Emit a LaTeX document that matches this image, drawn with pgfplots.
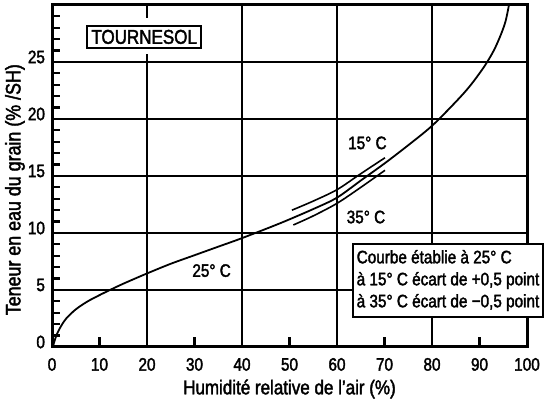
\documentclass[border=0pt]{standalone}
\usepackage{pgfplots}
\pgfplotsset{compat=1.18}
\usepackage{fontspec}
\setmainfont{Liberation Sans}[FakeStretch=0.85, FakeBold=2]
\begin{document}
\begin{tikzpicture}
\begin{axis}[
  scale only axis, width=237.5pt, height=171pt,
  xmin=0, xmax=100, ymin=0, ymax=30,
  clip=false,
  axis line style={line width=1.5pt},
  /pgf/number format/assume math mode=true,
  xtick={0,10,...,100}, ytick={0,5,...,25},
  minor ytick={1,2,...,29},
  xtick pos=bottom, ytick pos=left,
  tick align=inside,
  major tick length=5pt, minor tick length=4pt,
  tick style={black, line width=1.1pt},
  minor tick style={black, line width=1.1pt},
  major grid style={black, line width=1.1pt},
  extra x ticks={20,40,60,80}, extra x tick labels={},
  extra x tick style={grid=major, major tick length=0pt},
  extra y ticks={5,10,15,20,25}, extra y tick labels={},
  extra y tick style={grid=major, major tick length=0pt},
  tick label style={font=\fontsize{9}{9}\selectfont},
  xticklabel style={yshift=-2pt},
  yticklabel style={yshift=2.5pt},
  xlabel={Humidité relative de l'air (\%)},
  xlabel style={at={(axis description cs:0.5,0)}, anchor=center, yshift=-21pt, font=\fontsize{10}{10}\selectfont},
  ylabel={Teneur en eau du grain (\% /SH)},
  ylabel style={at={(axis description cs:0,0.46)}, anchor=center, yshift=18.5pt, font=\fontsize{10.5}{10.5}\selectfont},
]
\addplot[black, line width=0.9pt, smooth] coordinates {
(0.3,0.2)(1,1.1)(2,1.9)(3,2.5)(5,3.3)(7.5,4.0)(10,4.55)(12.2,5.0)(15,5.55)(20,6.45)(25,7.3)(30,8.05)(35,8.8)(40,9.55)(48,10.85)(55,12.1)(60,13.1)(65,14.6)(70,16.1)(75,17.7)(80,19.4)(85,21.5)(88,22.9)(91,24.6)(93,26.0)(94.5,27.4)(95.5,28.6)(96.2,30)
};
\addplot[black, line width=0.8pt, smooth] coordinates {
(50.5,12.0)(55,12.8)(60,13.8)(65,15.2)(70.1,16.6)
};
\addplot[black, line width=0.8pt, smooth] coordinates {
(50.8,10.7)(55,11.5)(60,12.6)(65,14.0)(70.1,15.5)
};
\fill[white] (axis cs:7,28.9) rectangle (axis cs:32,25.7);
\node[draw, line width=1pt, fill=white, inner xsep=2pt, inner ysep=2pt, font=\fontsize{10}{10}\selectfont] at (axis cs:19.4,27.2) {TOURNESOL};
\node[font=\fontsize{9}{9}\selectfont] at (axis cs:66.4,17.9) {15° C};
\node[font=\fontsize{9}{9}\selectfont] at (axis cs:66.1,11.4) {35° C};
\node[font=\fontsize{9}{9}\selectfont] at (axis cs:33.6,6.7) {25° C};
\node[draw, line width=1pt, fill=white, anchor=north west, align=left, inner xsep=2pt, inner ysep=3pt, font=\fontsize{9}{11}\selectfont] at (axis cs:63.1,9.12) {Courbe établie à 25° C\\à 15° C écart de +0,5 point\\à 35° C écart de −0,5 point};
\end{axis}
\pgfresetboundingbox
\path[use as bounding box] ([shift={(-26pt,-26pt)}]current axis.south west) rectangle ([shift={(9.5pt,2.5pt)}]current axis.north east);
\end{tikzpicture}
\end{document}
